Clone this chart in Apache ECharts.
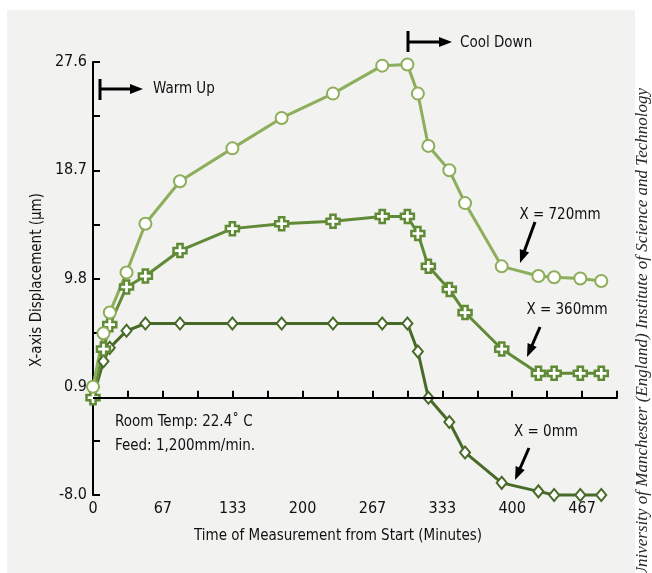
<!DOCTYPE html>
<html>
<head>
<meta charset="UTF-8">
<title>X-axis Displacement</title>
<style>
  html, body { margin: 0; padding: 0; background: #fff; }
  #chart { width: 652px; height: 573px; }
</style>
</head>
<body>
<div id="chart"></div>
<script src="https://cdn.jsdelivr.net/npm/echarts@6/dist/echarts.min.js"></script>
<script>
// minutes from start
var times = [0, 10, 16, 32, 50, 83, 133, 180, 229, 276, 300, 310, 320, 340, 355, 390, 425, 440, 465, 485];
// displacement (um)
var x720 = [0.9, 5.3, 7.0, 10.3, 14.3, 17.8, 20.5, 23.0, 25.0, 27.3, 27.4, 25.0, 20.7, 18.7, 16.0, 10.8, 10.0, 9.9, 9.8, 9.6];
var x360 = [0.0, 4.0, 6.0, 9.1, 10.0, 12.1, 13.9, 14.3, 14.5, 14.9, 14.9, 13.5, 10.8, 8.9, 7.0, 4.0, 2.0, 2.0, 2.0, 2.0];
var x0   = [0.0, 3.0, 4.1, 5.5, 6.1, 6.1, 6.1, 6.1, 6.1, 6.1, 6.1, 3.8, 0.0, -2.0, -4.5, -7.0, -7.7, -8.0, -8.0, -8.0];
var yMin = -8.0, yMax = 27.6, yStep = 4.45;
var xMax = 500, xStep = 100 / 3;

var font = "'Liberation Sans Narrow', 'DejaVu Sans Condensed', sans-serif";
var cLight = '#8dae5a', cMid = '#608a36', cDark = '#486a28';

function pairs(ys) {
    return ys.map(function (v, i) { return [times[i], v]; });
}

// arrow: shaft + triangle head
function arrow(x1, y1, x2, y2, head) {
    var dx = x2 - x1, dy = y2 - y1, len = Math.sqrt(dx * dx + dy * dy);
    var ux = dx / len, uy = dy / len;
    var bx = x2 - ux * head, by = y2 - uy * head;
    var w = head * 0.38;
    return [
        { type: 'line', shape: { x1: x1, y1: y1, x2: bx + ux, y2: by + uy }, style: { stroke: '#000', lineWidth: 3 } },
        { type: 'polygon', shape: { points: [[x2, y2], [bx - uy * w, by + ux * w], [bx + uy * w, by - ux * w]] }, style: { fill: '#000' } }
    ];
}

function txt(x, y, s, align) {
    return { type: 'text', x: x, y: y, style: { text: s, fill: '#111', font: '15px ' + font, align: align || 'left', verticalAlign: 'middle' } };
}

var plus = 'path://M3,0H7V3H10V7H7V10H3V7H0V3H3Z';

var g = [
    { type: 'rect', z: -10, shape: { x: 7, y: 10, width: 628, height: 570 }, style: { fill: '#f2f2f1' } },
    // warm up
    { type: 'line', shape: { x1: 100, y1: 79, x2: 100, y2: 100 }, style: { stroke: '#000', lineWidth: 3 } }
].concat(arrow(100, 89, 143, 89, 13)).concat([
    txt(153, 89, 'Warm Up'),
    // cool down
    { type: 'line', shape: { x1: 408, y1: 31, x2: 408, y2: 52 }, style: { stroke: '#000', lineWidth: 3 } }
]).concat(arrow(408, 42, 452, 42, 13)).concat([
    txt(460, 43, 'Cool Down'),
    txt(560, 215, 'X = 720mm', 'center')
]).concat(arrow(535, 222, 520, 263, 13)).concat([
    txt(567, 310, 'X = 360mm', 'center')
]).concat(arrow(540, 327, 527, 357, 13)).concat([
    txt(546, 432, 'X = 0mm', 'center')
]).concat(arrow(529, 448, 515, 480, 13)).concat([
    txt(115, 422, 'Room Temp: 22.4\u02da C'),
    txt(115, 446, 'Feed: 1,200mm/min.'),
    txt(338, 536, 'Time of Measurement from Start (Minutes)', 'center'),
    { type: 'text', x: 37, y: 280, rotation: Math.PI / 2,
      style: { text: 'X-axis Displacement (\u00b5m)', fill: '#111', font: '15px ' + font, align: 'center', verticalAlign: 'middle' } },
    { type: 'text', x: 643, y: 88, rotation: Math.PI / 2,
      style: { text: 'University of Manchester (England) Institute of Science and Technology', fill: '#2a2a2a',
               font: 'italic 17px "Liberation Serif", serif', align: 'right', verticalAlign: 'middle' } }
]);

var chart = echarts.init(document.getElementById('chart'));
chart.setOption({
    animation: false,
    grid: { left: 93, top: 62, right: 35, bottom: 78 },
    xAxis: {
        type: 'value', min: 0, max: xMax, interval: xStep,
        axisLine: { lineStyle: { color: '#000', width: 2 } },
        axisTick: { inside: true, length: 7, lineStyle: { color: '#000', width: 2 } },
        splitLine: { show: false },
        axisLabel: {
            color: '#111', fontFamily: font, fontSize: 16, margin: 6,
            formatter: function (v) {
                var i = Math.round(v / xStep);
                return i % 2 ? '' : String(Math.round(v));
            }
        }
    },
    yAxis: {
        type: 'value', min: yMin, max: yMax, interval: yStep,
        axisLine: { lineStyle: { color: '#000', width: 2 } },
        axisTick: { inside: true, length: 7, lineStyle: { color: '#000', width: 2 } },
        splitLine: { show: false },
        axisLabel: {
            color: '#111', fontFamily: font, fontSize: 16, margin: 6,
            formatter: function (v) {
                var i = Math.round((v - yMin) / yStep);
                return i % 2 ? '' : v.toFixed(1);
            }
        }
    },
    graphic: g,
    series: [
        {
            name: 'X = 0mm', type: 'line', data: pairs(x0), clip: false,
            symbol: 'diamond', symbolSize: [10, 12], showAllSymbol: true,
            lineStyle: { color: cDark, width: 3 },
            itemStyle: { color: '#fff', borderColor: cDark, borderWidth: 2 },
            markLine: {
                silent: true, symbol: 'none', label: { show: false },
                lineStyle: { color: '#000', width: 2, type: 'solid' },
                data: [{ yAxis: 0 }]
            }
        },
        {
            name: 'X = 360mm', type: 'line', data: pairs(x360), clip: false,
            symbol: plus, symbolSize: 13, showAllSymbol: true,
            lineStyle: { color: cMid, width: 3 },
            itemStyle: { color: '#fff', borderColor: cMid, borderWidth: 2.5 }
        },
        {
            name: 'X = 720mm', type: 'line', data: pairs(x720), clip: false,
            symbol: 'circle', symbolSize: 12, showAllSymbol: true,
            lineStyle: { color: cLight, width: 3 },
            itemStyle: { color: '#fff', borderColor: cLight, borderWidth: 2 }
        }
    ]
});
</script>
</body>
</html>
